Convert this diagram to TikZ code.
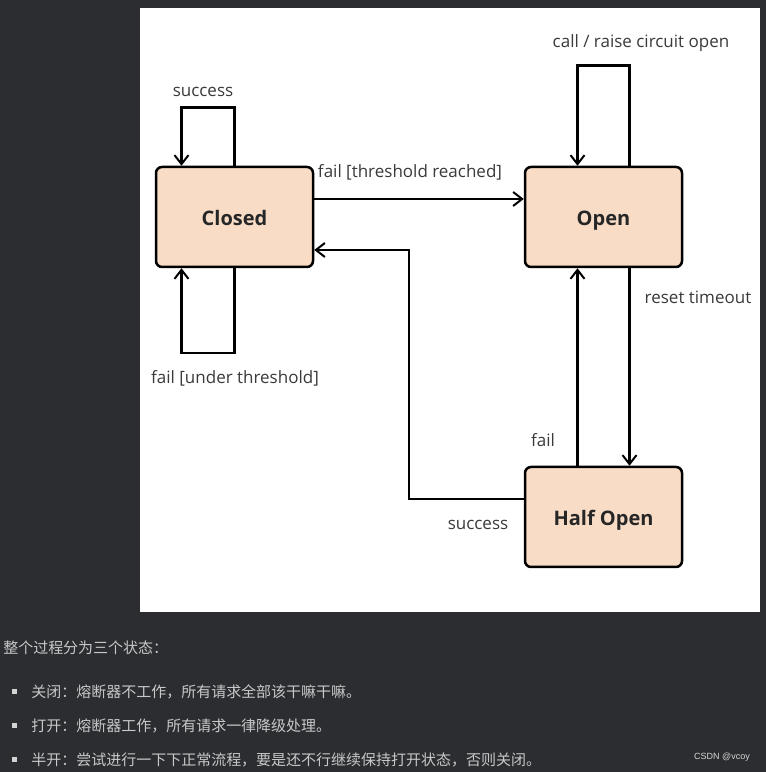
\documentclass[tikz,border=0pt]{standalone}
\usepackage{fontspec}
\setmainfont{Open Sans}
\newfontfamily\cjk{Noto Sans CJK SC}
\newfontfamily\marksf{Liberation Sans}
\usepackage{tikz}
\usetikzlibrary{arrows.meta, positioning, calc}
\tikzset{>/.tip={Straight Barb[length=9pt,width=14pt,line width=2pt]}}
\definecolor{page}{HTML}{2B2D31}
\definecolor{peach}{HTML}{F8DCC5}
\definecolor{lbl}{HTML}{3A3A3A}
\definecolor{note}{HTML}{C8C8C8}
\tikzset{state/.style={draw, line width=2.5pt, rounded corners=6pt, fill=peach,
    minimum width=157pt, minimum height=100pt, text height=18pt, text depth=0pt,
    font=\fontsize{20}{24}\selectfont\bfseries, text=black!85}}
\tikzset{lab/.style={text=lbl, font=\fontsize{17}{20}\selectfont, inner sep=0pt}}
\tikzset{zh/.style={text=note, font=\cjk\fontsize{15}{18}\selectfont, inner sep=0pt, anchor=west}}
\tikzset{dot/.style={fill=note!80, minimum size=5pt, inner sep=0pt}}

\begin{document}
\begin{tikzpicture}[x=1pt, y=1pt, line width=2.5pt]
\fill[page] (0,0) rectangle (766,772);
\fill[white] (140,160) rectangle (760,764);
\useasboundingbox (0,0) rectangle (766,772);
% states
\node[state] (closed) at (234.5,555) {Closed};
\node[state] (open) at (603.5,555) {Open};
\node[state] (half) at (603.5,255) {Half Open};
% transitions
\draw[->] (closed.north) -- ++(0,58) -| ([xshift=-53pt]closed.north);
\draw[->] (closed.south) -- ++(0,-85) -| ([xshift=-53pt]closed.south);
\draw[->] ([yshift=18pt]closed.east) -- ([yshift=18pt]open.west);
\draw[->] ([xshift=26pt]open.north) -- ++(0,100) -| ([xshift=-26pt]open.north);
\draw[->] ([xshift=26pt]open.south) -- ([xshift=26pt]half.north);
\draw[->] ([xshift=-26pt]half.north) -- ([xshift=-26pt]open.south);
\draw[->] ([yshift=18pt]half.west) -- ++(-115,0) |- ([yshift=-33pt]closed.east);
% labels
\node[lab] (l1) at (203,680) {success};
\node[lab] (l2) at (235,394) {fail [under threshold]};
\node[lab] (l3) at (410,600) {fail [threshold reached]};
\node[lab] (l4) at (641,729) {call / raise circuit open};
\node[lab] (l5) at (698,475) {reset timeout};
\node[lab] (l6) at (543,332) {fail};
\node[lab] (l7) at (478,247) {success};
% notes below
\node[zh] (t0) at (2,124) {整个过程分为三个状态：};
\node[dot] (b1) at (14.5,80) {};
\node[dot] (b2) at (14.5,46) {};
\node[dot] (b3) at (14.5,12) {};
\node[zh] (t1) at (30,80) {关闭：熔断器不工作，所有请求全部该干嘛干嘛。};
\node[zh] (t2) at (30,46) {打开：熔断器工作，所有请求一律降级处理。};
\node[zh] (t3) at (30,12) {半开：尝试进行一下下正常流程，要是还不行继续保持打开状态，否则关闭。};
\node[text=note!75, font=\marksf\fontsize{9}{10}\selectfont, inner sep=0pt] (mark) at (722,15) {CSDN @vcoy};
\end{tikzpicture}
\end{document}
